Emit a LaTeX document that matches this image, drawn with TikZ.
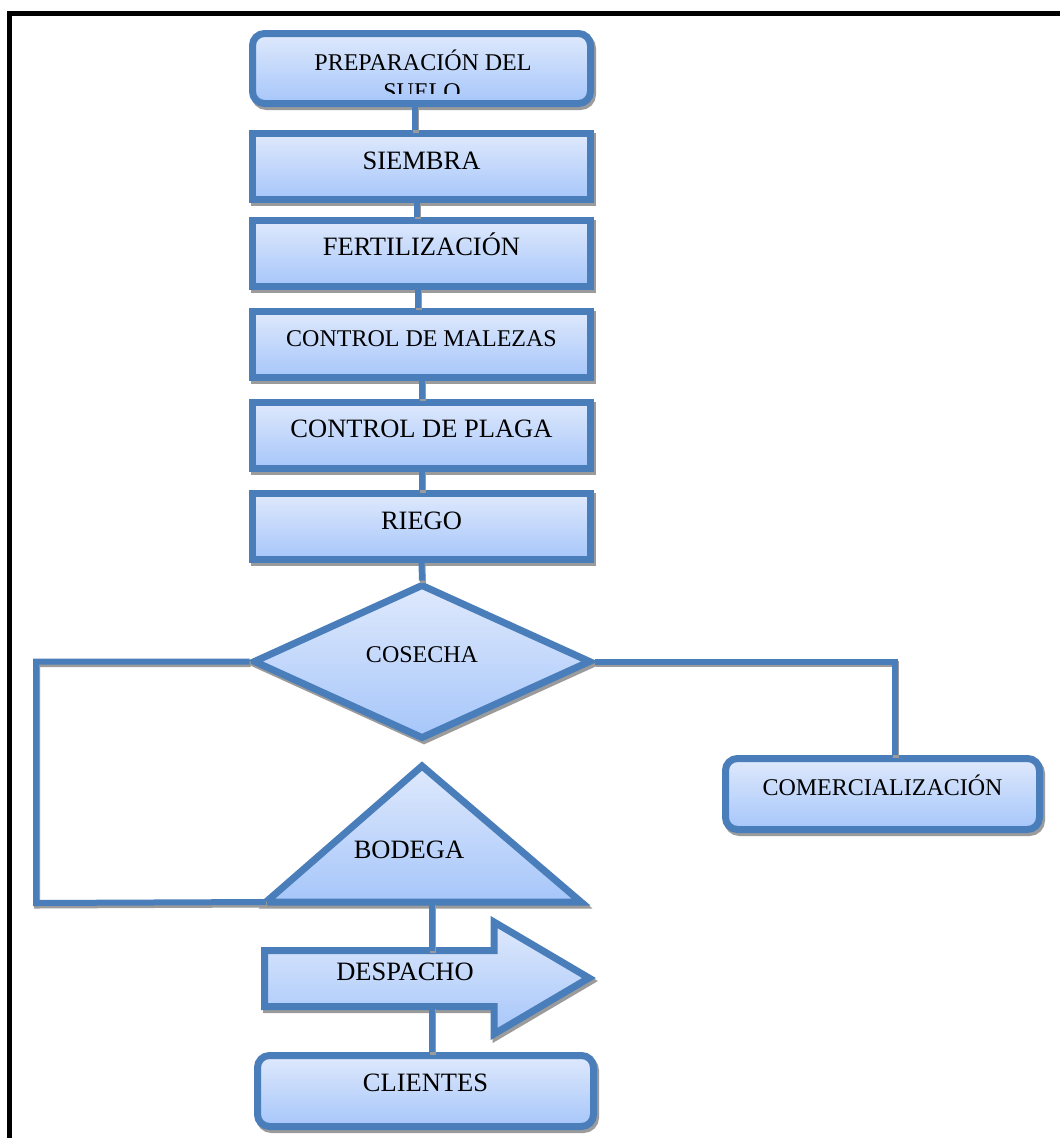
\documentclass[tikz,border=0pt]{standalone}
\usepackage{fontspec}
\setmainfont{Liberation Serif}
\usetikzlibrary{shapes.geometric}
\definecolor{bord}{RGB}{74,126,187}
\definecolor{ftop}{RGB}{223,233,252}
\definecolor{fbot}{RGB}{166,198,250}
\definecolor{shd}{RGB}{155,155,155}
\tikzset{
  shp/.style={draw=bord, line width=7pt, top color=ftop, bottom color=fbot,
    preaction={draw=shd, fill=shd, line width=7pt, transform canvas={shift={(2pt,-3pt)}}}},
  proc/.style={shp, rectangle, minimum width=338pt, minimum height=66pt, inner sep=0pt,
    text height=17pt, text depth=12pt},
  rproc/.style={proc, rounded corners=12pt},
  conn/.style={draw=bord, line width=6pt,
    preaction={draw=shd, line width=6pt, transform canvas={shift={(1pt,-2.5pt)}}}},
  big/.style={font=\fontsize{26.5}{30}\selectfont},
  small/.style={font=\fontsize{24}{29.5}\selectfont},
  plain/.style={inner sep=0pt},
}
\begin{document}
\begin{tikzpicture}[x=1pt,y=-1pt]
\clip (0,0) rectangle (1060,1138);
\fill[white] (0,0) rectangle (1060,1138);
% outer frame
\draw[line width=5pt] (9.5,1150) -- (9.5,13.5) -- (1075,13.5);

% process boxes
\node[rproc, minimum height=70pt] (prep) at (421.5,68.5) {};
\begin{scope}
  \clip (254,34) rectangle (590,93);
  \node[small, plain, anchor=base] (prep1) at (423,70) {PREPARACIÓN DEL};
  \node[small, plain, anchor=base] (prep2) at (422,99.5) {SUELO};
\end{scope}
\node[proc, big] (siembra) at (421.5,166.5) {SIEMBRA};
\node[proc, big] (fert) at (421.5,253) {FERTILIZACIÓN};
\node[proc, small, text height=16pt, text depth=12pt] (malezas) at (421.5,344) {CONTROL DE MALEZAS};
\node[proc, big] (plaga) at (421.5,435) {CONTROL DE PLAGA};
\node[proc, big] (riego) at (421.5,526.5) {RIEGO};

% decision
\node[shp, diamond, minimum width=338pt, minimum height=155pt, inner sep=0pt,
      small, text height=16pt, text depth=14pt] (cosecha) at (422,661.5) {COSECHA};

% storage triangle
\draw[shp] (422,766) coordinate (tA) -- (581,902) coordinate (tR)
      -- (266,902) coordinate (tL) -- cycle;
\node[big] (bodega) at (409,850) {BODEGA};
\coordinate (tB) at (432,902);

% dispatch arrow
\draw[shp] (264.5,950.5) coordinate (aTL) -- (494,950.5) -- (494,922)
      -- (589,978) coordinate (aTip) -- (494,1034) -- (494,1006.5)
      -- (264.5,1006.5) coordinate (aBL) -- cycle;
\node[big] (despacho) at (405,972) {DESPACHO};
\coordinate (aTop) at (432,950.5);
\coordinate (aBot) at (432,1006.5);

% terminals
\node[rproc, big, minimum width=336pt, minimum height=71pt, text depth=16pt]
      (clientes) at (425.5,1091) {CLIENTES};
\node[rproc, small, minimum width=314pt, minimum height=71pt, text height=16pt, text depth=13pt]
      (comm) at (882.5,794) {COMERCIALIZACIÓN};

% connectors
\draw[conn] ([xshift=-6.5pt]prep.south) -- ([xshift=-6.5pt]siembra.north);
\draw[conn] ([xshift=-4.5pt]siembra.south) -- ([xshift=-4.5pt]fert.north);
\draw[conn] ([xshift=-3.5pt]fert.south) -- ([xshift=-3.5pt]malezas.north);
\draw[conn] (malezas.south) -- (plaga.north);
\draw[conn] (plaga.south) -- (riego.north);
\draw[conn] (riego.south) -- (cosecha.north);
\draw[conn] (cosecha.west) -- (36,661.5) -- (36,903) -- (tL);
\draw[conn] (cosecha.east) -- (895,661.5) coordinate (rc) -- (rc |- comm.north);
\draw[conn] (tB) -- (aTop);
\draw[conn] (aBot) -- (aBot |- clientes.north);
\end{tikzpicture}
\end{document}
